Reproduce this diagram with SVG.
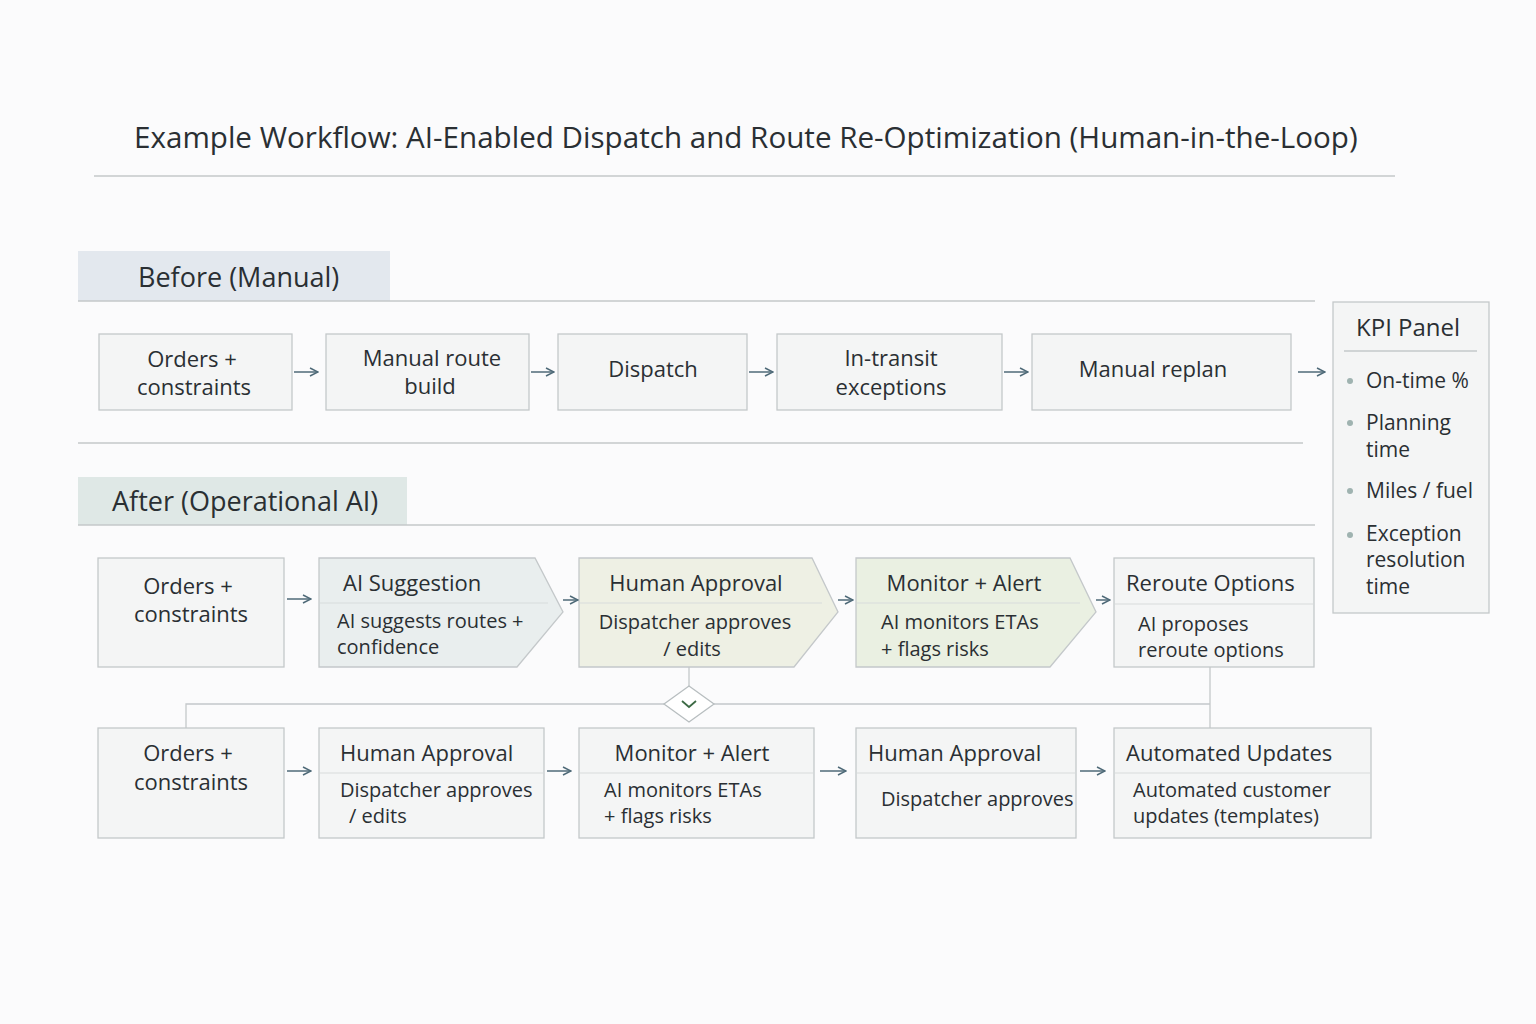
<svg xmlns="http://www.w3.org/2000/svg" width="1536" height="1024" viewBox="0 0 1536 1024">
<defs>
<marker id="ah" viewBox="0 0 10 10" refX="9" refY="5" markerWidth="10" markerHeight="10" markerUnits="userSpaceOnUse" orient="auto"><path d="M1,1 L9,5 L1,9" fill="none" stroke="#4f6a78" stroke-width="1.5"/></marker>
<style>
text{font-family:"Open Sans","Noto Sans",sans-serif;fill:#2a2f33}
.b{fill:#f4f5f5;stroke:#c4c8ca;stroke-width:1.3}
.h{font-size:22px}
.s{font-size:20px}
.c{text-anchor:middle}
.ln{stroke:#c4c8ca;stroke-width:1.3;fill:none}
.ar{stroke:#4f6a78;stroke-width:1.5;fill:none;marker-end:url(#ah)}
.hd{stroke:#d8dcdc;stroke-width:1.2}
</style>
</defs>
<rect width="1536" height="1024" fill="#fbfbfc"/>
<text x="134" y="148" font-size="29.6" font-weight="500" fill="#25292c">Example Workflow: AI-Enabled Dispatch and Route Re-Optimization (Human-in-the-Loop)</text>
<line x1="94" y1="176" x2="1395" y2="176" class="ln"/>
<g id="before-header"><rect x="78" y="251" width="312" height="50" fill="#e3e8ee"/><text x="138" y="287" font-size="27">Before (Manual)</text></g>
<line x1="78" y1="301" x2="1315" y2="301" class="ln"/>
<g id="b1"><rect class="b" x="99" y="334" width="193" height="76"/><text class="h c" x="192" y="367">Orders +</text><text class="h c" x="194" y="395">constraints</text></g>
<g id="b2"><rect class="b" x="326" y="334" width="203" height="76"/><text class="h c" x="432" y="366">Manual route</text><text class="h c" x="430" y="394">build</text></g>
<g id="b3"><rect class="b" x="558" y="334" width="189" height="76"/><text class="h c" x="653" y="377">Dispatch</text></g>
<g id="b4"><rect class="b" x="777" y="334" width="225" height="76"/><text class="h c" x="891" y="366">In-transit</text><text class="h c" x="891" y="395">exceptions</text></g>
<g id="b5"><rect class="b" x="1032" y="334" width="259" height="76"/><text class="h c" x="1153" y="377">Manual replan</text></g>
<line x1="78" y1="443" x2="1303" y2="443" class="ln"/>
<g id="after-header"><rect x="78" y="477" width="329" height="48" fill="#dfe8e6"/><text x="112" y="511" font-size="27">After (Operational AI)</text></g>
<line x1="78" y1="525" x2="1315" y2="525" class="ln"/>
<g id="a1"><rect class="b" x="98" y="558" width="186" height="109"/><text class="h c" x="188" y="594">Orders +</text><text class="h c" x="191" y="622">constraints</text></g>
<g id="a2"><path d="M319,558 H535 L563,612 L517,667 H319 Z" fill="#e9eeee" stroke="#c4c8ca" stroke-width="1.3"/><line class="hd" x1="320" y1="603" x2="548" y2="603"/><text class="h" x="343" y="591" font-size="23" fill="#1f4658">AI Suggestion</text><text class="s" x="337" y="628">AI suggests routes +</text><text class="s" x="337" y="654">confidence</text></g>
<g id="a3"><path d="M579,558 H812 L838,612 L794,667 H579 Z" fill="#eef0e4" stroke="#c4c8ca" stroke-width="1.3"/><line class="hd" x1="580" y1="603" x2="822" y2="603"/><text class="h c" x="696" y="591" font-size="23">Human Approval</text><text class="s c" x="695" y="629">Dispatcher approves</text><text class="s c" x="692" y="656">/ edits</text></g>
<g id="a4"><path d="M856,558 H1070 L1096,612 L1050,667 H856 Z" fill="#eaf0e2" stroke="#c4c8ca" stroke-width="1.3"/><line class="hd" x1="857" y1="603" x2="1080" y2="603"/><text class="h c" x="964" y="591" font-size="23" fill="#3c5a3a">Monitor + Alert</text><text class="s" x="881" y="629">AI monitors ETAs</text><text class="s" x="881" y="656">+ flags risks</text></g>
<g id="a5"><rect class="b" x="1114" y="558" width="200" height="109" fill="#f1f3ef"/><line class="hd" x1="1115" y1="604" x2="1313" y2="604"/><text class="h" x="1126" y="591">Reroute Options</text><text class="s" x="1138" y="631">AI proposes</text><text class="s" x="1138" y="657">reroute options</text></g>
<g id="c1"><rect class="b" x="98" y="728" width="186" height="110"/><text class="h c" x="188" y="761">Orders +</text><text class="h c" x="191" y="790">constraints</text></g>
<g id="c2"><rect class="b" x="319" y="728" width="225" height="110"/><line class="hd" x1="320" y1="773" x2="543" y2="773"/><text class="h" x="340" y="761" font-size="23" fill="#1f4658">Human Approval</text><text class="s" x="340" y="797">Dispatcher approves</text><text class="s" x="349" y="823">/ edits</text></g>
<g id="c3"><rect class="b" x="579" y="728" width="235" height="110" fill="#f1f3ef"/><line class="hd" x1="580" y1="773" x2="813" y2="773"/><text class="h c" x="692" y="761" font-size="23">Monitor + Alert</text><text class="s" x="604" y="797">AI monitors ETAs</text><text class="s" x="604" y="823">+ flags risks</text></g>
<g id="c4"><rect class="b" x="856" y="728" width="220" height="110"/><line class="hd" x1="857" y1="773" x2="1075" y2="773"/><text class="h" x="868" y="761" font-size="23">Human Approval</text><text class="s" x="881" y="806">Dispatcher approves</text></g>
<g id="c5"><rect class="b" x="1114" y="728" width="257" height="110"/><line class="hd" x1="1115" y1="773" x2="1370" y2="773"/><text class="h" x="1126" y="761" font-size="23">Automated Updates</text><text class="s" x="1133" y="797">Automated customer</text><text class="s" x="1133" y="823">updates (templates)</text></g>
<g id="kpi"><rect class="b" x="1333" y="302" width="156" height="311"/><text x="1356" y="336" font-size="24">KPI Panel</text><line class="ln" x1="1344" y1="351" x2="1477" y2="351"/>
<g fill="#9fb3b0"><circle cx="1350" cy="381" r="3"/><circle cx="1350" cy="423" r="3"/><circle cx="1350" cy="491" r="3"/><circle cx="1350" cy="535" r="3"/></g>
<g font-size="21"><text x="1366" y="388">On-time %</text><text x="1366" y="430">Planning</text><text x="1366" y="457">time</text><text x="1366" y="498">Miles / fuel</text><text x="1366" y="541">Exception</text><text x="1366" y="567">resolution</text><text x="1366" y="594">time</text></g></g>
<g id="connectors">
<line class="ar" x1="294" y1="372" x2="318" y2="372"/>
<line class="ar" x1="531" y1="372" x2="554" y2="372"/>
<line class="ar" x1="749" y1="372" x2="773" y2="372"/>
<line class="ar" x1="1004" y1="372" x2="1028" y2="372"/>
<line class="ar" x1="1298" y1="372" x2="1325" y2="372"/>
<line class="ar" x1="287" y1="599" x2="311" y2="599"/>
<line class="ar" x1="563" y1="600" x2="578" y2="600"/>
<line class="ar" x1="838" y1="600" x2="853" y2="600"/>
<line class="ar" x1="1096" y1="600" x2="1110" y2="600"/>
<line class="ar" x1="287" y1="771" x2="311" y2="771"/>
<line class="ar" x1="547" y1="771" x2="571" y2="771"/>
<line class="ar" x1="820" y1="771" x2="846" y2="771"/>
<line class="ar" x1="1080" y1="771" x2="1105" y2="771"/>
<path class="ln" d="M689,667 V686 M186,728 V704 H664 M714,704 H1210 M1210,667 V728"/>
<path d="M664,704 L689,686 L714,704 L689,722 Z" fill="#fff" stroke="#b8bec0" stroke-width="1.3"/>
<path d="M682,701 L689,707 L696,701" fill="none" stroke="#3c6a45" stroke-width="1.8"/>
</g>
</svg>
